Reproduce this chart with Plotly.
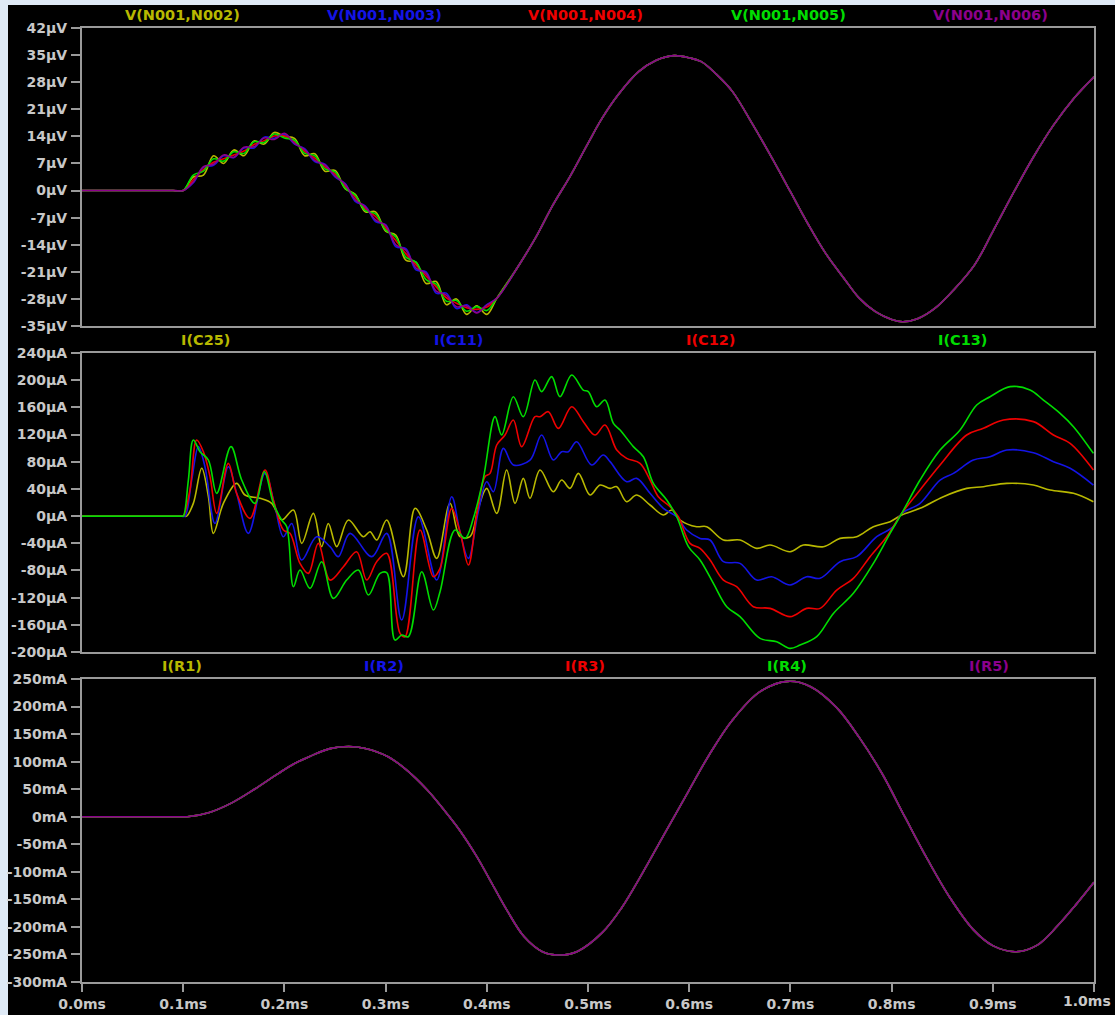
import plotly.graph_objects as go

# ---------------- top pane: differential node voltages (µV) ----------------
T_TOP_HEAD = [0.0, 0.09, 0.10, 0.11, 0.12, 0.13, 0.14, 0.15, 0.16, 0.17, 0.18, 0.19, 0.20,
              0.21, 0.22, 0.23, 0.24, 0.25, 0.26, 0.27, 0.28, 0.29, 0.30, 0.31, 0.32,
              0.33, 0.34, 0.35, 0.36, 0.37, 0.38, 0.39, 0.40]
T_TOP_TAIL = [0.41, 0.43, 0.448, 0.465, 0.483, 0.50, 0.514, 0.53, 0.55, 0.567, 0.585, 0.60,
              0.612, 0.627, 0.643, 0.662, 0.682, 0.70, 0.718, 0.735, 0.753, 0.768, 0.784,
              0.80, 0.811, 0.825, 0.843, 0.862, 0.882, 0.90, 0.921, 0.94, 0.96, 0.98, 1.0]
V_TOP_TAIL = [-27.8, -20.0, -12.3, -3.9, 4.0, 12.2, 18.7, 24.8, 30.7, 33.6, 34.85, 34.3,
              33.3, 30.0, 25.5, 17.4, 8.3, -0.3, -8.9, -16.3, -22.7, -27.8, -31.3,
              -33.3, -33.9, -33.2, -30.4, -25.5, -19.2, -10.6, -0.3, 8.6, 16.9, 23.8, 29.4]

V_N002_HEAD = [0, 0, 0, 3.5, 4.0, 9.0, 7.0, 10.5, 9.0, 12.8, 12.0, 15.0, 14.0, 13.5, 9.0, 9.5,
               5.0, 5.2, 0.5, -1.0, -5.5, -5.5, -10.5, -11.5, -18.0, -18.5, -24.0, -23.5,
               -29.5, -28.0, -32.0, -29.8, -32.0]
V_N003_HEAD = [0, 0, 0, 2.0, 6.0, 6.5, 9.0, 8.5, 11.0, 11.0, 13.8, 13.5, 14.5, 12.0, 10.8, 7.5,
               6.8, 3.5, 1.8, -2.8, -4.0, -8.0, -8.8, -14.5, -15.0, -20.5, -21.0, -26.5,
               -26.5, -30.5, -29.5, -31.5, -29.5]
V_N004_HEAD = [0, 0, 0, 2.8, 5.4, 7.3, 8.2, 9.2, 10.2, 11.9, 12.9, 14.1, 14.1, 12.6, 10.1, 8.4,
               6.1, 4.3, 1.1, -1.7, -4.7, -6.7, -9.6, -12.9, -16.3, -19.2, -22.1, -24.9,
               -27.7, -29.1, -30.3, -30.7, -30.1]
V_N005_HEAD = [0, 0, 0, 4.0, 5.0, 8.2, 7.6, 10.0, 9.6, 12.6, 12.4, 14.6, 13.6, 13.0, 9.6, 9.0,
               5.6, 4.8, 0.6, -1.2, -5.2, -6.0, -10.2, -12.0, -17.2, -18.5, -23.0, -24.2,
               -28.6, -28.4, -31.2, -30.0, -31.0]
V_N006_HEAD = [0, 0, 0, 2.2, 6.2, 6.8, 9.2, 8.6, 11.2, 11.3, 13.6, 13.2, 14.8, 12.2, 10.6, 7.8,
               6.6, 3.8, 1.6, -2.4, -4.2, -7.6, -9.0, -14.0, -15.4, -20.0, -21.4, -26.0,
               -27.0, -30.0, -29.8, -31.6, -29.6]

# ---------------- middle pane: capacitor currents (µA) ----------------
T_C25 = [0.0, 0.1, 0.1034, 0.1100, 0.1183, 0.1249, 0.1298, 0.1397, 0.1528, 0.1611, 0.1759,
         0.1874, 0.1973, 0.2089, 0.2171, 0.2286, 0.2368, 0.2434, 0.2517, 0.2632, 0.2780,
         0.2846, 0.2912, 0.3011, 0.3176, 0.3291, 0.3406, 0.3505, 0.3637, 0.3735, 0.3834,
         0.3916, 0.3999, 0.4098, 0.4196, 0.4279, 0.4361, 0.4427, 0.4526, 0.4657, 0.4740,
         0.4822, 0.4905, 0.5020, 0.5119, 0.5218, 0.5284, 0.5382, 0.5481, 0.5613, 0.5745,
         0.5827, 0.5910, 0.6074, 0.6173, 0.6338, 0.6502, 0.6667, 0.6799, 0.6997, 0.7128,
         0.7326, 0.7491, 0.7655, 0.7820, 0.7985, 0.8100, 0.8281, 0.8512, 0.8742, 0.8907,
         0.9138, 0.9401, 0.9566, 0.9797, 0.9994]
I_C25 = [0, 0, 0, 18.7, 70.3, 28.6, -25.4, 18.7, 48.2, 31.0, 26.1,
         18.7, -5.8, 9.0, -40.1, 4.0, -45.0, -10.8, -45.0, -5.8, -30.3,
         -23.0, -35.2, -5.8, -89.2, 11.4, -20.5, -62.2, 18.7, -30.3, -30.3,
         11.4, 40.8, 4.0, 67.8, 18.7, 55.5, 26.1, 67.8, 35.9, 53.1,
         40.8, 62.9, 31.0, 45.7, 40.8, 43.3, 21.2, 31.0, 16.3, 1.6,
         9.0, -5.8, -15.6, -15.6, -35.2, -35.2, -47.5, -42.6, -52.4, -42.6,
         -45.0, -32.8, -30.3, -15.6, -8.2, 1.6, 11.4, 28.6, 40.8, 43.3,
         48.2, 45.7, 38.4, 33.5, 21.2]

T_C11 = [0.0, 0.098, 0.1018, 0.1084, 0.1150, 0.1215, 0.1314, 0.1446, 0.1528, 0.1644, 0.1808,
         0.1907, 0.1990, 0.2072, 0.2171, 0.2319, 0.2451, 0.2533, 0.2648, 0.2863, 0.3011,
         0.3159, 0.3324, 0.3505, 0.3653, 0.3735, 0.3818, 0.3916, 0.3999, 0.4065, 0.4164,
         0.4262, 0.4427, 0.4542, 0.4657, 0.4740, 0.4806, 0.4888, 0.5036, 0.5151, 0.5218,
         0.5382, 0.5481, 0.5613, 0.5745, 0.5877, 0.5975, 0.6107, 0.6206, 0.6338, 0.6502,
         0.6667, 0.6815, 0.6997, 0.7161, 0.7293, 0.7491, 0.7655, 0.7853, 0.8018, 0.8100,
         0.8281, 0.8479, 0.8611, 0.8808, 0.8973, 0.9138, 0.9401, 0.9599, 0.9764, 0.9994]
I_C11 = [0, 0, 0, 53.1, 102.2, 72.7, -10.8, 72.7, 33.5, -25.4, 62.9,
         13.7, -30.3, -10.8, -64.7, -30.3, -45.0, -59.7, -25.4, -59.7, -25.4,
         -152.9, -0.9, -94.1, 28.5, -23.0, -62.2, 6.5, 50.6, 35.9, 99.7,
         75.2, 82.5, 119.3, 82.5, 94.8, 94.8, 109.5, 75.2, 89.9, 80.1,
         50.6, 55.5, 33.5, 11.4, -1.0, -20.5, -32.8, -35.2, -67.1, -69.6,
         -94.1, -89.2, -101.4, -89.2, -91.6, -67.1, -59.7, -30.3, -15.6, 4.0,
         18.7, 53.1, 62.9, 82.5, 87.4, 97.2, 93.3, 80.1, 70.3, 45.7]

T_C12 = [0.0, 0.098, 0.1001, 0.1067, 0.1133, 0.1199, 0.1265, 0.1331, 0.1446, 0.1528, 0.1660,
         0.1808, 0.1891, 0.1990, 0.2055, 0.2154, 0.2237, 0.2335, 0.2451, 0.2583, 0.2714,
         0.2813, 0.2912, 0.3011, 0.3143, 0.3192, 0.3340, 0.3472, 0.3538, 0.3653, 0.3735,
         0.3818, 0.3900, 0.3982, 0.4032, 0.4098, 0.4180, 0.4262, 0.4345, 0.4476, 0.4526,
         0.4608, 0.4707, 0.4839, 0.4954, 0.5069, 0.5168, 0.5284, 0.5382, 0.5514, 0.5613,
         0.5695, 0.5811, 0.5893, 0.6008, 0.6107, 0.6206, 0.6338, 0.6469, 0.6634, 0.6799,
         0.6997, 0.7161, 0.7293, 0.7458, 0.7622, 0.7787, 0.7952, 0.8100, 0.8281, 0.8479,
         0.8742, 0.8907, 0.9105, 0.9401, 0.9599, 0.9764, 0.9994]
I_C12 = [0, 0, 0, 38.4, 112.0, 94.8, 58.0, 4.0, 77.6, 33.5, -3.3,
         67.8, 23.7, -20.5, -25.4, -69.6, -84.3, -40.1, -94.1, -74.5, -52.4,
         -94.1, -67.1, -54.8, -172.6, -177.5, -20.5, -89.2, -76.9, 11.4, -23.0,
         -72.0, 1.6, 58.0, 62.9, 104.6, 119.3, 141.4, 102.1, 146.3, 146.3,
         153.6, 129.1, 161.0, 138.9, 119.3, 134.0, 97.2, 85.0, 77.6, 53.1,
         28.6, 13.8, -1.0, -40.1, -47.5, -64.6, -94.1, -103.9, -133.3, -135.8,
         -148.0, -135.8, -135.8, -108.8, -91.6, -59.7, -30.3, 4.0, 38.4, 75.2,
         119.3, 129.1, 141.4, 139.0, 119.3, 107.0, 67.8]

T_C13 = [0.0, 0.098, 0.1001, 0.1051, 0.1100, 0.1166, 0.1249, 0.1331, 0.1472, 0.1578, 0.1710,
         0.1802, 0.1891, 0.1973, 0.2023, 0.2089, 0.2154, 0.2253, 0.2368, 0.2484, 0.2615,
         0.2731, 0.2830, 0.2945, 0.3011, 0.3093, 0.3159, 0.3225, 0.3357, 0.3472, 0.3538,
         0.3686, 0.3785, 0.3867, 0.3966, 0.4081, 0.4147, 0.4262, 0.4361, 0.4476, 0.4542,
         0.4641, 0.4723, 0.4839, 0.4953, 0.5003, 0.5086, 0.5168, 0.5251, 0.5317, 0.5448,
         0.5547, 0.5646, 0.5778, 0.5877, 0.5992, 0.6107, 0.6239, 0.6371, 0.6502, 0.6700,
         0.6865, 0.6997, 0.7095, 0.7260, 0.7425, 0.7622, 0.7820, 0.7985, 0.8100, 0.8281,
         0.8479, 0.8677, 0.8841, 0.8973, 0.9171, 0.9368, 0.9500, 0.9665, 0.9797, 0.9994]
I_C13 = [0, 0, 0, 53.0, 112.0, 94.8, 82.5, 33.5, 102.2, 53.1, 18.7,
         65.4, 18.7, -5.8, -15.6, -103.9, -79.4, -106.4, -67.1, -121.1, -94.1,
         -79.4, -116.2, -84.3, -83.3, -182.4, -175.0, -177.5, -81.8, -138.2, -111.3,
         -20.5, -32.8, -3.3, 55.5, 146.3, 119.3, 175.7, 146.3, 200.3, 183.1,
         205.2, 175.7, 207.6, 185.5, 183.1, 161.0, 170.8, 136.5, 126.7, 102.2,
         87.4, 48.2, 23.7, -1.0, -45.0, -64.6, -99.0, -133.3, -148.0, -180.0,
         -184.9, -194.7, -189.8, -177.5, -143.2, -113.7, -69.6, -25.4, 4.0, 53.1,
         97.2, 126.7, 163.5, 175.7, 190.5, 185.6, 170.8, 151.2, 131.6, 92.3]

# ---------------- bottom pane: resistor currents (mA) ----------------
T_R = [0.0, 0.098, 0.106, 0.125, 0.148, 0.17, 0.193, 0.21, 0.225, 0.245, 0.2636, 0.28, 0.302,
       0.32, 0.341, 0.357, 0.373, 0.39, 0.405, 0.42, 0.437, 0.455, 0.4725, 0.49, 0.514,
       0.533, 0.553, 0.575, 0.598, 0.62, 0.643, 0.67, 0.6975, 0.72, 0.7457, 0.768, 0.7907,
       0.813, 0.8357, 0.858, 0.8807, 0.90, 0.9225, 0.944, 0.964, 0.982, 1.0]
I_R1 = [0, 0, 0.4, 7.2, 25.2, 49.4, 77.3, 96.6, 109.5, 123.6, 127.5, 124, 109.4,
        86, 49, 14, -24, -72, -121, -170, -218, -245, -251, -244, -210.5,
        -166, -105, -33, 42, 113, 176, 227, 245.7, 236, 198, 144, 78,
        0, -78, -148, -205, -234, -245, -233, -198, -160, -119]
I_R2 = list(I_R1)
I_R3 = list(I_R1)
I_R4 = list(I_R1)
I_R5 = list(I_R1)

# ---------------- axis ticks ----------------
X_TICKS = [0.0, 0.1, 0.2, 0.3, 0.4, 0.5, 0.6, 0.7, 0.8, 0.9, 1.0]
X_LABELS = ["0.0ms", "0.1ms", "0.2ms", "0.3ms", "0.4ms", "0.5ms", "0.6ms", "0.7ms",
            "0.8ms", "0.9ms", "1.0ms"]
Y1_TICKS = [42, 35, 28, 21, 14, 7, 0, -7, -14, -21, -28, -35]
Y2_TICKS = [240, 200, 160, 120, 80, 40, 0, -40, -80, -120, -160, -200]
Y3_TICKS = [250, 200, 150, 100, 50, 0, -50, -100, -150, -200, -250, -300]

YELLOW = "#b8b800"
BLUE = "#1414e6"
RED = "#ee0000"
GREEN = "#00dd00"
PURPLE = "#8c008c"
FRAME = "#9a9a9a"
TEXT = "#c8c8c8"
FONT = "DejaVu Sans"

W, H = 1115, 1015
XDOM = [82 / W, 1094 / W]


def ydom(top_px, bot_px):
    return [1 - bot_px / H, 1 - top_px / H]


fig = go.Figure()


def add(t, v, color, ax):
    fig.add_trace(go.Scatter(
        x=t, y=v, mode="lines",
        line=dict(color=color, width=1.6, shape="spline", smoothing=1.0),
        xaxis="x" + ax, yaxis="y" + ax, showlegend=False, hoverinfo="skip"))


top_series = [("V(N001,N002)", V_N002_HEAD, YELLOW), ("V(N001,N003)", V_N003_HEAD, BLUE),
              ("V(N001,N004)", V_N004_HEAD, RED), ("V(N001,N005)", V_N005_HEAD, GREEN),
              ("V(N001,N006)", V_N006_HEAD, PURPLE)]
for name, head, col in top_series:
    add(T_TOP_HEAD + T_TOP_TAIL, head + V_TOP_TAIL, col, "")

mid_series = [("I(C25)", T_C25, I_C25, YELLOW), ("I(C11)", T_C11, I_C11, BLUE),
              ("I(C12)", T_C12, I_C12, RED), ("I(C13)", T_C13, I_C13, GREEN)]
for name, t, v, col in mid_series:
    add(t, v, col, "2")

bot_series = [("I(R1)", I_R1, YELLOW), ("I(R2)", I_R2, BLUE), ("I(R3)", I_R3, RED),
              ("I(R4)", I_R4, GREEN), ("I(R5)", I_R5, PURPLE)]
for name, v, col in bot_series:
    add(T_R, v, col, "3")

tickfont = dict(family=FONT, size=14, color=TEXT, weight="bold")

xcommon = dict(range=[0, 1], domain=XDOM, showgrid=False, zeroline=False, showline=True,
               mirror=True, linecolor=FRAME, linewidth=2, fixedrange=True, automargin=False)
ycommon = dict(showgrid=False, zeroline=False, showline=True, mirror=True, linecolor=FRAME,
               linewidth=2, ticks="outside", ticklen=9, tickwidth=2, tickcolor=FRAME,
               tickfont=tickfont, ticklabelstandoff=1, automargin=False,
               ticklabeloverflow="allow")

# the last time label sits against the right window edge, so it is drawn
# separately, right-aligned to the edge, instead of centred on its tick
x_ticktext = X_LABELS[:-1] + [""]

fig.update_layout(
    template="none",
    width=W, height=H, margin=dict(l=0, r=0, t=0, b=0, pad=0),
    paper_bgcolor="#dfeaf6", plot_bgcolor="#000000",
    xaxis=dict(**xcommon, anchor="y", showticklabels=False, ticks=""),
    yaxis=dict(**ycommon, domain=ydom(28, 326), range=[-35, 42], tickvals=Y1_TICKS,
               ticktext=[f"{v}µV" for v in Y1_TICKS], anchor="x"),
    xaxis2=dict(**xcommon, anchor="y2", showticklabels=False, ticks=""),
    yaxis2=dict(**ycommon, domain=ydom(353, 652), range=[-200, 240], tickvals=Y2_TICKS,
                ticktext=[f"{v}µA" for v in Y2_TICKS], anchor="x2"),
    xaxis3=dict(**xcommon, anchor="y3", tickvals=X_TICKS, ticktext=x_ticktext,
                ticks="outside", ticklen=8, tickwidth=2, tickcolor=FRAME, tickfont=tickfont,
                ticklabeloverflow="allow"),
    yaxis3=dict(**ycommon, domain=ydom(679, 982), range=[-300, 250], tickvals=Y3_TICKS,
                ticktext=[f"{v}mA" for v in Y3_TICKS], anchor="x3"),
    shapes=[dict(type="rect", xref="paper", yref="paper", x0=8 / W, x1=1, y0=0,
                 y1=1 - 5 / H, fillcolor="#000000", line=dict(width=0), layer="below")],
)

# trace names above each pane, in the trace colours
label_font = dict(family=FONT, size=14.5, weight="bold")
anns = []
for (name, _, col), cx in zip(top_series, [182, 384, 585, 788, 990]):
    anns.append(dict(text=name, x=cx / W, y=1 - 15 / H, font=dict(**label_font, color=col)))
for (name, _, _, col), cx in zip(mid_series, [205, 458, 710, 962]):
    anns.append(dict(text=name, x=cx / W, y=1 - 340 / H, font=dict(**label_font, color=col)))
for (name, _, col), cx in zip(bot_series, [182, 384, 585, 787, 989]):
    anns.append(dict(text=name, x=cx / W, y=1 - 666 / H, font=dict(**label_font, color=col)))
for a in anns:
    a.update(xref="paper", yref="paper", showarrow=False, xanchor="center", yanchor="middle")
anns.append(dict(text=X_LABELS[-1], xref="paper", yref="paper", x=1 - 2 / W,
                 y=1 - 1001 / H, xanchor="right", yanchor="middle", showarrow=False,
                 font=tickfont))
fig.update_layout(annotations=anns)

fig.write_html("out.html")
